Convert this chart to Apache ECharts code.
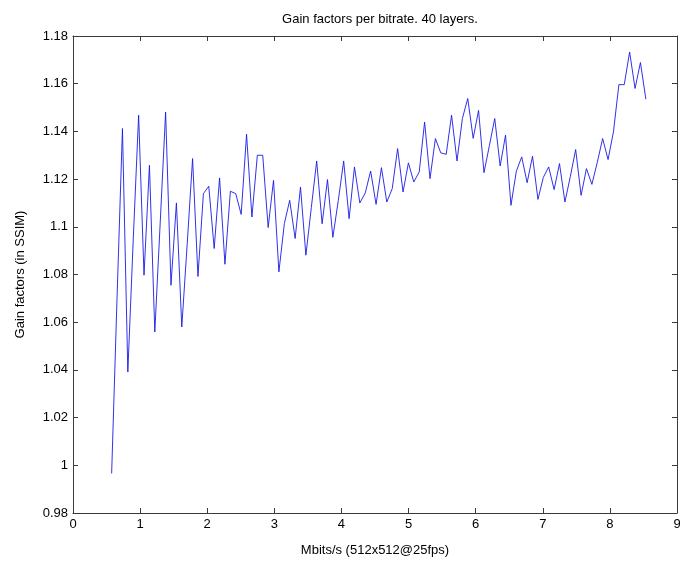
<!DOCTYPE html>
<html>
<head>
<meta charset="utf-8">
<script src="https://cdn.jsdelivr.net/npm/echarts@6/dist/echarts.min.js"></script>
<style>
  html, body { margin: 0; padding: 0; background: #ffffff; }
  #chart { width: 680px; height: 563px; }
</style>
</head>
<body>
<div id="chart"></div>
<script>
// Bitrate sweep (Mbits/s) and the SSIM gain factor measured at each bitrate
var bitrates = [
  0.576, 0.656, 0.737, 0.817, 0.898, 0.978, 1.058, 1.139, 1.219, 1.300,
  1.380, 1.460, 1.541, 1.621, 1.702, 1.782, 1.862, 1.943, 2.023, 2.104,
  2.184, 2.264, 2.345, 2.425, 2.506, 2.586, 2.666, 2.747, 2.827, 2.908,
  2.988, 3.068, 3.149, 3.229, 3.310, 3.390, 3.470, 3.551, 3.631, 3.712,
  3.792, 3.872, 3.953, 4.033, 4.114, 4.194, 4.274, 4.355, 4.435, 4.516,
  4.596, 4.676, 4.757, 4.837, 4.918, 4.998, 5.078, 5.159, 5.239, 5.320,
  5.400, 5.480, 5.561, 5.641, 5.722, 5.802, 5.882, 5.963, 6.043, 6.124,
  6.204, 6.284, 6.365, 6.445, 6.526, 6.606, 6.686, 6.767, 6.847, 6.928,
  7.008, 7.088, 7.169, 7.249, 7.330, 7.410, 7.490, 7.571, 7.651, 7.732,
  7.812, 7.892, 7.973, 8.053, 8.134, 8.214, 8.294, 8.375, 8.455, 8.536
];
var gainFactors = [
  0.9966, 1.0700, 1.1412, 1.0391, 1.0950, 1.1468, 1.0797, 1.1258, 1.0559, 1.1020,
  1.1481, 1.0755, 1.1100, 1.0580, 1.0930, 1.1286, 1.0792, 1.1139, 1.1170, 1.0909,
  1.1205, 1.0843, 1.1149, 1.1139, 1.1052, 1.1388, 1.1041, 1.1300, 1.1300, 1.0997,
  1.1195, 1.0811, 1.1013, 1.1111, 1.0951, 1.1167, 1.0881, 1.1080, 1.1276, 1.1013,
  1.1198, 1.0956, 1.1110, 1.1276, 1.1034, 1.1251, 1.1100, 1.1142, 1.1234, 1.1094,
  1.1248, 1.1104, 1.1160, 1.1328, 1.1146, 1.1268, 1.1188, 1.1230, 1.1439, 1.1202,
  1.1370, 1.1310, 1.1304, 1.1468, 1.1276, 1.1454, 1.1538, 1.1371, 1.1488, 1.1227,
  1.1340, 1.1454, 1.1255, 1.1384, 1.1090, 1.1233, 1.1293, 1.1185, 1.1296, 1.1115,
  1.1207, 1.1251, 1.1156, 1.1265, 1.1104, 1.1210, 1.1324, 1.1132, 1.1244, 1.1178,
  1.1270, 1.1370, 1.1282, 1.1398, 1.1596, 1.1596, 1.1733, 1.1580, 1.1689, 1.1535
];

var titleText = 'Gain factors per bitrate. 40 layers.';
var xName = 'Mbits/s (512x512@25fps)';
var yName = 'Gain factors (in SSIM)';

var points = bitrates.map(function (b, i) { return [b, gainFactors[i]]; });

var FONT = '"Liberation Sans", Arial, sans-serif';
var AXIS_COLOR = '#3a3a3a';

function trimNum(v) {
  return String(parseFloat(v.toFixed(2)));
}

var chart = echarts.init(document.getElementById('chart'), null, { renderer: 'canvas' });

var xBase = {
  type: 'value', min: 0, max: 9, interval: 1,
  axisLine: { show: true, onZero: false, lineStyle: { color: AXIS_COLOR, width: 1 } },
  axisTick: { show: true, inside: true, length: 5, lineStyle: { color: AXIS_COLOR } },
  splitLine: { show: false }
};
var yBase = {
  type: 'value', min: 0.98, max: 1.18, interval: 0.02,
  axisLine: { show: true, onZero: false, lineStyle: { color: AXIS_COLOR, width: 1 } },
  axisTick: { show: true, inside: true, length: 5, lineStyle: { color: AXIS_COLOR } },
  splitLine: { show: false }
};

chart.setOption({
  animation: false,
  backgroundColor: '#ffffff',
  title: {
    text: titleText,
    left: 375, top: 8, textAlign: 'center',
    textStyle: { fontFamily: FONT, fontSize: 13, fontWeight: 'normal', color: '#000' }
  },
  grid: { left: 73, right: 3, top: 36, bottom: 50, containLabel: false, outerBoundsMode: 'none' },
  xAxis: [
    Object.assign({}, xBase, {
      position: 'bottom',
      name: xName, nameLocation: 'middle', nameGap: 31,
      nameTextStyle: { fontFamily: FONT, fontSize: 13, color: '#000' },
      axisLabel: { show: true, margin: 5, fontFamily: FONT, fontSize: 13, color: '#000',
                   formatter: function (v) { return trimNum(v); } }
    }),
    Object.assign({}, xBase, { position: 'top', axisLabel: { show: false } })
  ],
  yAxis: [
    Object.assign({}, yBase, {
      position: 'left',
      name: yName, nameLocation: 'middle', nameGap: 46, nameRotate: 90,
      nameTextStyle: { fontFamily: FONT, fontSize: 13, color: '#000' },
      axisLabel: { show: true, margin: 5, fontFamily: FONT, fontSize: 13, color: '#000',
                   formatter: function (v) { return trimNum(v); } }
    }),
    Object.assign({}, yBase, { position: 'right', axisLabel: { show: false } })
  ],
  series: [{
    type: 'line',
    data: points,
    xAxisIndex: 0, yAxisIndex: 0,
    showSymbol: false,
    symbol: 'none',
    lineStyle: { color: '#1a1ae6', width: 0.9 },
    silent: true
  }]
});
</script>
</body>
</html>
